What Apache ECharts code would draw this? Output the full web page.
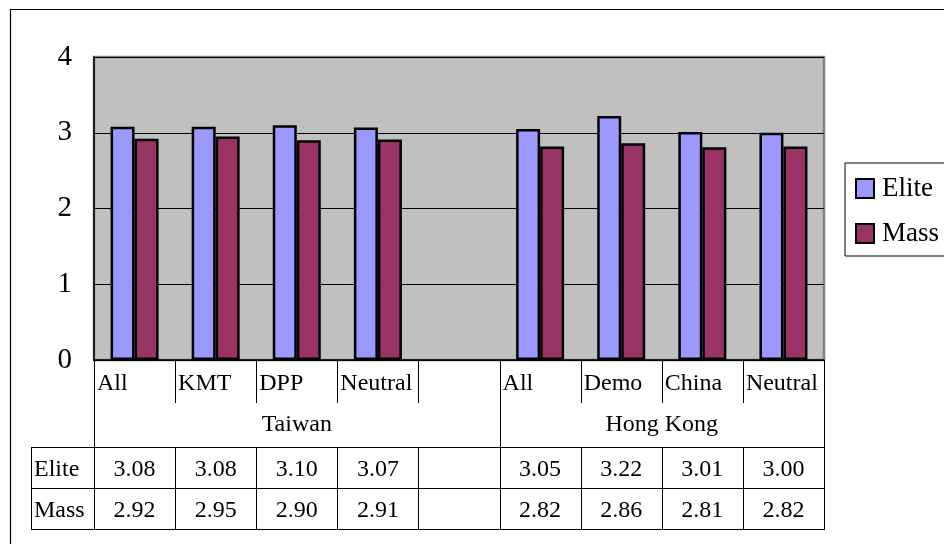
<!DOCTYPE html>
<html>
<head>
<meta charset="utf-8">
<script src="https://cdn.jsdelivr.net/npm/echarts@6/dist/echarts.min.js"></script>
<style>
  html, body { margin: 0; padding: 0; background: #fff; }
  #c { width: 944px; height: 544px; }
</style>
</head>
<body>
<div id="c"></div>
<script>
// Groups along the category axis (the blank slot separates the two regions)
const categories = ['All', 'KMT', 'DPP', 'Neutral', '', 'All', 'Demo', 'China', 'Neutral'];
const regionNames = ['Taiwan', 'Hong Kong'];
const regionStart = [0, 5];
const regionEnd = [4, 8];
const eliteValues = [3.08, 3.08, 3.10, 3.07, null, 3.05, 3.22, 3.01, 3.00];
const massValues = [2.92, 2.95, 2.90, 2.91, null, 2.82, 2.86, 2.81, 2.82];
const rowNames = ['Elite', 'Mass'];
const yTicks = [0, 1, 2, 3, 4];

const FONT = '"Liberation Serif", "Times New Roman", serif';

const chart = echarts.init(document.getElementById('c'), null, { renderer: 'canvas' });

const option = {
  animation: false,
  backgroundColor: '#ffffff',
  grid: {
    left: 94, right: 120, top: 57, bottom: 184,
    show: true,
    backgroundColor: '#c0c0c0',
    borderColor: '#808080',
    borderWidth: 2.5
  },
  legend: {
    left: 845, top: 163,
    orient: 'vertical',
    itemWidth: 18, itemHeight: 19,
    itemGap: 18,
    padding: [12, 60, 9, 10],
    borderColor: '#000', borderWidth: 1,
    backgroundColor: '#fff',
    icon: 'rect',
    textStyle: { fontFamily: FONT, fontSize: 27, color: '#000', padding: [0, 0, 0, 3] },
    data: rowNames
  },
  xAxis: {
    type: 'category',
    data: categories,
    axisLine: { show: true, lineStyle: { color: '#000', width: 1.5 } },
    axisTick: { show: false },
    axisLabel: { show: false },
    splitLine: { show: false }
  },
  yAxis: {
    type: 'value',
    min: yTicks[0], max: yTicks[yTicks.length - 1], interval: 1,
    axisLine: { show: true, lineStyle: { color: '#000', width: 1.5 } },
    axisTick: { show: false },
    axisLabel: { fontFamily: FONT, fontSize: 29, color: '#000', margin: 22 },
    splitLine: { show: true, lineStyle: { color: '#000', width: 1 } }
  },
  series: [
    {
      name: 'Elite', type: 'bar', data: eliteValues,
      barWidth: 24, barGap: '0%',
      itemStyle: { color: '#9999ff', borderColor: '#000', borderWidth: 2.5 }
    },
    {
      name: 'Mass', type: 'bar', data: massValues,
      barWidth: 24,
      itemStyle: { color: '#993366', borderColor: '#000', borderWidth: 2.5 }
    }
  ]
};

chart.setOption(option);

// Data table under the plot, aligned with the category bands
const c0 = chart.convertToPixel({ xAxisIndex: 0 }, 0);
const c1 = chart.convertToPixel({ xAxisIndex: 0 }, 1);
const band = c1 - c0;
const edge = i => c0 - band / 2 + i * band;
const n = categories.length;
const r0 = chart.convertToPixel({ yAxisIndex: 0 }, 0);
const r1 = r0 + 43;
const r2 = r0 + 87;
const r3 = r2 + 41;
const r4 = r3 + 41;
const tableLeft = 31;

const g = [];
const line = (x1, y1, x2, y2, w) => g.push({
  type: 'line',
  shape: { x1: x1, y1: y1, x2: x2, y2: y2 },
  style: { stroke: '#000', lineWidth: w || 1 },
  z: 10
});
const text = (x, y, s, align) => g.push({
  type: 'text', x: x, y: y,
  style: { text: s, fontFamily: FONT, fontSize: 24, fill: '#000', align: align || 'left', verticalAlign: 'middle' },
  z: 10
});

// outer frame
g.push({
  type: 'rect',
  shape: { x: 10.5, y: 9.5, width: 1000, height: 600 },
  style: { fill: 'none', stroke: '#000', lineWidth: 1.2 },
  z: 1
});

// category row separators
for (let i = 1; i < n; i++) line(Math.round(edge(i)) + 0.5, r0, Math.round(edge(i)) + 0.5, r1);
// region boundaries, full height
[0, regionStart[1], n].forEach(i => line(Math.round(edge(i)) + 0.5, r0, Math.round(edge(i)) + 0.5, r4));
// value row separators
for (let i = 1; i < n; i++) line(Math.round(edge(i)) + 0.5, r2, Math.round(edge(i)) + 0.5, r4);
line(tableLeft + 0.5, r2, tableLeft + 0.5, r4);
[r2, r3, r4].forEach(y => line(tableLeft, Math.round(y) + 0.5, Math.round(edge(n)) + 1, Math.round(y) + 0.5));

// category labels
categories.forEach((c, i) => { if (c) text(edge(i) + 3, (r0 + r1) / 2 + 2, c, 'left'); });
// region labels
regionNames.forEach((name, k) => {
  const mid = (edge(regionStart[k]) + edge(regionEnd[k] + 1)) / 2;
  text(mid, (r1 + r2) / 2, name, 'center');
});
// value rows
const rows = [eliteValues, massValues];
rows.forEach((vals, k) => {
  const ym = (k === 0 ? (r2 + r3) / 2 : (r3 + r4) / 2) + 2;
  text(tableLeft + 3, ym, rowNames[k], 'left');
  vals.forEach((v, i) => { if (v != null) text(edge(i) + band / 2, ym, v.toFixed(2), 'center'); });
});

chart.setOption({ graphic: { elements: g } });
</script>
</body>
</html>
